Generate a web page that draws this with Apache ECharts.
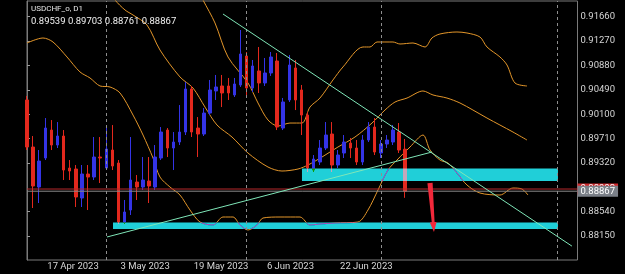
<!DOCTYPE html>
<html><head><meta charset="utf-8">
<script src="https://cdn.jsdelivr.net/npm/echarts@6/dist/echarts.min.js"></script>
<style>html,body{margin:0;padding:0;background:#000;}#c{width:625px;height:274px;}</style>
</head><body><div id="c"></div>
<script>
const symbolName = 'USDCHF_o, D1';
const dates = ['12 Apr 2023','13 Apr 2023','14 Apr 2023','17 Apr 2023','18 Apr 2023','19 Apr 2023','20 Apr 2023','21 Apr 2023','24 Apr 2023','25 Apr 2023','26 Apr 2023','27 Apr 2023','28 Apr 2023',
'1 May 2023','2 May 2023','3 May 2023','4 May 2023','5 May 2023','8 May 2023','9 May 2023','10 May 2023','11 May 2023','12 May 2023','15 May 2023','16 May 2023','17 May 2023','18 May 2023','19 May 2023','22 May 2023','23 May 2023','24 May 2023','25 May 2023','26 May 2023','29 May 2023','30 May 2023','31 May 2023',
'1 Jun 2023','2 Jun 2023','5 Jun 2023','6 Jun 2023','7 Jun 2023','8 Jun 2023','9 Jun 2023','12 Jun 2023','13 Jun 2023','14 Jun 2023','15 Jun 2023','16 Jun 2023','19 Jun 2023','20 Jun 2023','21 Jun 2023','22 Jun 2023','23 Jun 2023','26 Jun 2023','27 Jun 2023','28 Jun 2023','29 Jun 2023','30 Jun 2023',
'3 Jul 2023','4 Jul 2023','5 Jul 2023','6 Jul 2023','7 Jul 2023'];
const opens = [0.90327,0.89574,0.88934,0.89398,0.89846,0.89606,0.89750,0.89238,0.89222,0.88758,
0.89142,0.89094,0.89414,0.89238,0.89526,0.89318,0.88374,0.88566,0.89014,0.88934,
0.89030,0.88934,0.89398,0.89846,0.89558,0.89654,0.89814,0.90503,0.89878,0.89782,
0.90118,0.90471,0.90551,0.90551,0.90407,0.90567,0.91031,0.90519,0.90791,0.90599,
0.90759,0.90951,0.89878,0.90327,0.90839,0.90487,0.90086,0.89206,0.89334,0.89558,
0.89782,0.89286,0.89478,0.89638,0.89558,0.89334,0.89686,0.89894,0.89478,0.89622,
0.89654,0.89814,0.89539];
const closes = [0.89574,0.88950,0.89350,0.89878,0.89606,0.89750,0.89206,0.89190,0.88774,0.89142,
0.89094,0.89414,0.89398,0.89542,0.89270,0.88374,0.88534,0.89046,0.88934,0.89046,
0.88950,0.89414,0.89814,0.89558,0.89654,0.89814,0.90503,0.89814,0.89782,0.90118,
0.90487,0.90535,0.90439,0.90439,0.90583,0.91063,0.90519,0.90871,0.90599,0.90759,
0.91015,0.89894,0.90295,0.90887,0.90327,0.90086,0.89238,0.89382,0.89558,0.89766,
0.89286,0.89446,0.89654,0.89558,0.89334,0.89686,0.89894,0.89494,0.89622,0.89686,
0.89846,0.89526,0.88867];
const lows = [0.89526,0.88598,0.88678,0.89366,0.89526,0.89558,0.89046,0.89046,0.88614,0.88614,
0.88566,0.89046,0.88998,0.89206,0.89206,0.88342,0.88342,0.88486,0.88726,0.88886,
0.88678,0.88886,0.89366,0.89414,0.89206,0.89606,0.89766,0.89734,0.89414,0.89750,
0.90086,0.90327,0.90214,0.90327,0.90375,0.90535,0.90359,0.90455,0.90439,0.90551,
0.90711,0.89846,0.89846,0.90295,0.90166,0.89766,0.89174,0.89174,0.89286,0.89526,
0.89174,0.89238,0.89398,0.89398,0.89286,0.89286,0.89654,0.89446,0.89398,0.89558,
0.89606,0.89478,0.88761];
const highs = [0.90391,0.89750,0.89526,0.90038,0.90006,0.89974,0.89846,0.89366,0.89286,0.89286,
0.89286,0.89734,0.89734,0.89926,0.89926,0.89366,0.88726,0.89734,0.89126,0.89414,
0.89414,0.89606,0.89894,0.89878,0.89814,0.90246,0.90615,0.90551,0.90054,0.90198,
0.90647,0.90727,0.90727,0.90679,0.90679,0.91447,0.91095,0.90967,0.91175,0.90999,
0.91095,0.91079,0.90359,0.91047,0.90967,0.90567,0.90134,0.89446,0.89686,0.89974,
0.89974,0.89526,0.89766,0.89718,0.89686,0.89766,0.89974,0.90038,0.89686,0.89766,
0.89926,0.89958,0.89703];
const labelBars = [3, 15, 27, 39, 51];
const yTicks = [0.91660, 0.91270, 0.90880, 0.90490, 0.90100, 0.89710, 0.89320, 0.88540, 0.88150];
const separatorBars = [13, 36, 58, 87];
const upperBand = [[26.72,0.92327],[28.85,0.91927],[30.82,0.91559],[32.95,0.91015],[36.23,0.90599],[37.87,0.90279],[39.51,0.90006],[41.15,0.89910],[43.11,0.89958],[45.08,0.89958],[46.39,0.90214],[48.03,0.90358],[50.16,0.90647],[51.80,0.90855],[55.08,0.91175],[56.23,0.91175],[57.38,0.91255],[60.00,0.91255],[61.15,0.91223],[63.28,0.91239],[65.25,0.91175],[66.39,0.91319],[67.70,0.91383],[70.49,0.91415],[72.13,0.91399],[74.26,0.91335],[75.41,0.91175],[77.54,0.91015],[78.69,0.90887],[80.00,0.90599],[81.97,0.90551]];
const middleBand = [[12.79,0.92167],[14.43,0.91927],[16.07,0.91767],[17.38,0.91687],[19.67,0.91527],[21.80,0.91127],[25.08,0.90695],[27.21,0.90519],[29.18,0.90214],[31.15,0.89926],[33.61,0.89734],[36.23,0.89478],[39.51,0.89254],[41.80,0.89190],[44.43,0.89222],[46.07,0.89286],[48.36,0.89414],[50.98,0.89574],[53.77,0.89734],[56.56,0.89958],[58.69,0.90166],[60.33,0.90294],[62.30,0.90358],[64.92,0.90471],[66.56,0.90407],[68.85,0.90358],[70.98,0.90279],[73.11,0.90166],[75.41,0.90038],[77.54,0.89926],[79.67,0.89814],[81.97,0.89686]];
const lowerBand = [[0.00,0.91239],[2.62,0.91319],[4.26,0.91255],[6.56,0.91015],[8.69,0.90775],[10.33,0.90679],[11.97,0.90551],[13.61,0.90535],[15.25,0.90439],[17.38,0.90086],[19.02,0.89766],[20.66,0.89398],[21.80,0.89094],[23.44,0.88934],[25.08,0.88806],[26.72,0.88566],[28.36,0.88374],[30.49,0.88326],[32.13,0.88454],[33.77,0.88454],[34.92,0.88326],[36.23,0.88246],[37.70,0.88326],[38.69,0.88438],[41.48,0.88454],[44.75,0.88454],[46.39,0.88326],[48.03,0.88342],[50.49,0.88358],[54.26,0.88374],[55.90,0.88566],[57.54,0.88886],[59.18,0.89206],[60.66,0.89366],[62.79,0.89574],[64.92,0.89766],[66.07,0.89526],[67.70,0.89366],[69.02,0.89318],[70.49,0.89158],[72.13,0.88966],[74.26,0.88838],[77.54,0.88806],[79.67,0.88918],[81.15,0.88902],[82.13,0.88806]];
const trendDown = [[32.13,0.91703],[89.34,0.87988]];
const trendUp = [[13.11,0.88134],[66.39,0.89494]];
const zones = [[45.08,87.05,0.89230,0.89030],[14.10,87.05,0.88366,0.88262]];
const arrowPath = [[66.07,0.88998,66.72,0.88214]];
const bidPrice = 0.88867;
const askPrice = 0.88902;

const last = opens.length - 1;
const ohlcText = [opens[last], highs[last], lows[last], closes[last]].map(v => v.toFixed(5)).join(' ');
const candleData = opens.map((o, i) => [i, o, closes[i], lows[i], highs[i]]);
const xMin = 0, xMax = 90.25;

const RED = '#e3281d', BLUE = '#3434e6', ORANGE = '#e3962a', CYAN = '#20cfd8', GREEN = '#7fe6b8';
const FONT = 'Roboto';

const priceLine = (name, price, lineColor, boxColor, z) => ({
  type: 'line', name, data: [[xMin, price], [xMax, price]], symbol: 'none', silent: true, z,
  lineStyle: {color: lineColor, width: 1},
  endLabel: {show: true, distance: 0, formatter: () => price.toFixed(5), backgroundColor: boxColor, color: '#fff',
             fontSize: 9.5, fontFamily: FONT, padding: [1, 3, 0, 3], lineHeight: 10}
});

const chart = echarts.init(document.getElementById('c'), null, {renderer: 'canvas'});
chart.setOption({
  backgroundColor: '#000',
  animation: false,
  title: {
    text: symbolName, subtext: ohlcText, left: 31, top: 4, padding: 0, itemGap: 2,
    textStyle: {color: '#e6e6e6', fontSize: 8, fontWeight: 'normal', fontFamily: FONT, lineHeight: 10},
    subtextStyle: {color: '#f2f2f2', fontSize: 9.5, fontFamily: FONT, lineHeight: 12}
  },
  grid: {left: 27, right: 47.5, top: 1, bottom: 14, show: true, borderColor: '#7a7a7a', borderWidth: 1, backgroundColor: 'transparent'},
  xAxis: {
    type: 'value', min: xMin, max: xMax,
    axisLine: {show: false}, axisTick: {show: false}, splitLine: {show: false},
    axisLabel: {
      customValues: labelBars, formatter: v => dates[v] || '',
      color: '#d6d6d6', fontSize: 9.5, fontFamily: FONT, align: 'left', margin: 2, padding: [0, 0, 0, 2]
    }
  },
  yAxis: {
    type: 'value', position: 'right', min: 0.87766, max: 0.91911, scale: true,
    axisLine: {show: true, lineStyle: {color: '#7a7a7a'}},
    axisTick: {show: true, customValues: yTicks, length: 3, lineStyle: {color: '#9a9a9a'}},
    splitLine: {show: false},
    axisLabel: {customValues: yTicks, formatter: v => v.toFixed(5), color: '#d6d6d6', fontSize: 9.5, fontFamily: FONT, margin: 3}
  },
  series: [
    {
      type: 'line', name: 'upper', data: upperBand, smooth: 0.3, symbol: 'none', silent: true, z: 2,
      lineStyle: {color: ORANGE, width: 1}
    },
    {
      type: 'line', name: 'middle', data: middleBand, smooth: 0.3, symbol: 'none', silent: true, z: 2,
      lineStyle: {color: ORANGE, width: 1}
    },
    {
      type: 'line', name: 'lower', data: lowerBand, smooth: 0.3, symbol: 'none', silent: true, z: 2,
      lineStyle: {color: ORANGE, width: 1}
    },
    {
      type: 'candlestick', name: 'price', data: candleData, encode: {x: 0, y: [1, 2, 3, 4]},
      barWidth: 3, silent: true, z: 2,
      itemStyle: {color: BLUE, color0: RED, borderColor: BLUE, borderColor0: RED, borderWidth: 1},
      markLine: {
        silent: true, symbol: ['none', 'none'], animation: false, precision: 5,
        data: separatorBars.map(v => ({xAxis: v, lineStyle: {color: '#8e8e8e', type: [3, 3], width: 1}, label: {show: false}}))
      }
    },
    {
      type: 'custom', name: 'zones', data: zones, encode: {x: [0, 1], y: [2, 3]}, silent: true, z: 3,
      renderItem: (params, api) => {
        const p0 = api.coord([api.value(0), api.value(2)]);
        const p1 = api.coord([api.value(1), api.value(3)]);
        return {type: 'rect', name: 'zoneRect', shape: {x: p0[0], y: p0[1], width: p1[0] - p0[0], height: p1[1] - p0[1]},
                style: {fill: CYAN, blend: 'difference'}};
      }
    },
    priceLine('ask', askPrice, '#b8292c', '#d22a2e', 4),
    priceLine('bid', bidPrice, '#8a8a8a', '#7b8088', 4.5),
    {
      type: 'line', name: 'trendDown', data: trendDown, symbol: 'none', silent: true, z: 5,
      lineStyle: {color: GREEN, width: 1}
    },
    {
      type: 'line', name: 'trendUp', data: trendUp, symbol: 'none', silent: true, z: 5,
      lineStyle: {color: GREEN, width: 1}
    },
    {
      type: 'custom', name: 'arrow', data: arrowPath, encode: {x: [0, 2], y: [1, 3]}, silent: true, z: 6,
      renderItem: (params, api) => {
        const a = api.coord([api.value(0), api.value(1)]);
        const b = api.coord([api.value(2), api.value(3)]);
        const dx = b[0] - a[0], dy = b[1] - a[1];
        const len = Math.sqrt(dx * dx + dy * dy);
        const ux = dx / len, uy = dy / len, nx = -uy, ny = ux;
        const h = [a[0] + dx * 0.8, a[1] + dy * 0.8];
        const pt = (p, w) => [p[0] + nx * w, p[1] + ny * w];
        return {type: 'polygon', shape: {points: [pt(a, 2.6), pt(h, 1.4), pt(h, 3.4), b, pt(h, -3.4), pt(h, -1.4), pt(a, -2.6)]},
                style: {fill: '#f2283a'}};
      }
    }
  ]
});

// MetaTrader draws its rectangles inverting what lies beneath; emulate with a difference blend.
const zr = chart.getZr();
zr.storage.getDisplayList(true).forEach(el => {
  if (el.name === 'zoneRect') { el.style.blend = 'difference'; el.markRedraw(); }
});
zr.refreshImmediately();
</script></body></html>
